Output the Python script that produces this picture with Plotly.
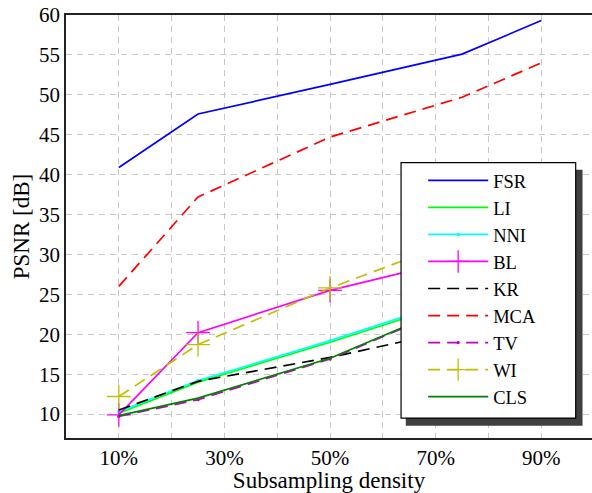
import plotly.graph_objects as go

density = [10, 25, 50, 75, 90]
FSR = [40.9, 47.6, 51.3, 55.1, 59.3]
LI = [10.1, 14.0, 19.0, 24.3, 27.5]
NNI = [10.3, 14.2, 19.2, 24.6, 27.8]
BL = [9.9, 20.2, 25.5, 29.5, 31.5]
KR = [10.5, 14.1, 17.1, 20.7, 22.5]
MCA = [26.0, 37.2, 44.7, 49.7, 54.0]
TV = [9.7, 11.8, 16.9, 23.9, 27.3]
WI = [12.2, 18.7, 25.8, 32.0, 35.0]
CLS = [9.8, 12.0, 17.0, 24.0, 27.5]

x_tickvals = [10, 20, 30, 40, 50, 60, 70, 80, 90]
x_ticktext = ["10%", "", "30%", "", "50%", "", "70%", "", "90%"]
y_tickvals = [10, 15, 20, 25, 30, 35, 40, 45, 50, 55, 60]

FONT = "Liberation Serif"
DASH = "12px,7px"

series = [
    ("FSR", FSR, "#0000ff", "solid", None),
    ("LI", LI, "#00ff00", "solid", None),
    ("NNI", NNI, "#00ffff", "solid", "circle"),
    ("BL", BL, "#ff00ff", "solid", "cross-thin"),
    ("KR", KR, "#000000", DASH, None),
    ("MCA", MCA, "#ff0000", DASH, None),
    ("TV", TV, "#bf00bf", DASH, "circle"),
    ("WI", WI, "#bfbf00", DASH, "cross-thin"),
    ("CLS", CLS, "#008000", "solid", None),
]

fig = go.Figure()
for name, vals, color, dash, sym in series:
    if sym is None:
        fig.add_trace(go.Scatter(x=density, y=vals, name=name, mode="lines",
                                 line=dict(color=color, width=1.7, dash=dash)))
    else:
        size = 2 if sym == "circle" else 17
        fig.add_trace(go.Scatter(x=density, y=vals, name=name, mode="lines+markers",
                                 line=dict(color=color, width=1.7, dash=dash),
                                 marker=dict(symbol=sym, size=size, color=color,
                                             line=dict(color=color, width=1.3))))

# legend frame with shadow (paper coords)
fig.add_shape(type="rect", xref="paper", yref="paper", x0=0.646, x1=0.982, y0=0.029, y1=0.634,
              fillcolor="#404040", line=dict(width=0), layer="above")
fig.add_shape(type="rect", xref="paper", yref="paper", x0=0.637, x1=0.969, y0=0.047, y1=0.651,
              fillcolor="white", line=dict(color="black", width=1.2), layer="above")

fig.update_layout(
    width=592, height=493,
    margin=dict(l=66, r=0, t=15, b=55),
    paper_bgcolor="white", plot_bgcolor="white",
    font=dict(family=FONT, size=21, color="black"),
    showlegend=True,
    legend=dict(x=0.679, y=0.653, xanchor="left", yanchor="top",
                bgcolor="rgba(0,0,0,0)", borderwidth=0,
                font=dict(family=FONT, size=18.5), itemwidth=60, tracegroupgap=0),
    xaxis=dict(range=[0, 99.6], tickvals=x_tickvals, ticktext=x_ticktext,
               showgrid=True, gridcolor="#c8c8c8", griddash="6px,5px", gridwidth=1,
               showline=True, linecolor="#222", linewidth=1.6, mirror=True,
               ticks="", zeroline=False, tickfont=dict(family=FONT, size=21),
               title=dict(text="Subsampling density", font=dict(family=FONT, size=23), standoff=7)),
    yaxis=dict(range=[7, 60], tickvals=y_tickvals,
               showgrid=True, gridcolor="#c8c8c8", griddash="6px,5px", gridwidth=1,
               showline=True, linecolor="#222", linewidth=1.6,
               ticks="", zeroline=False, tickfont=dict(family=FONT, size=21),
               title=dict(text="PSNR [dB]", font=dict(family=FONT, size=23), standoff=3)),
)

fig.write_html("out.html")
